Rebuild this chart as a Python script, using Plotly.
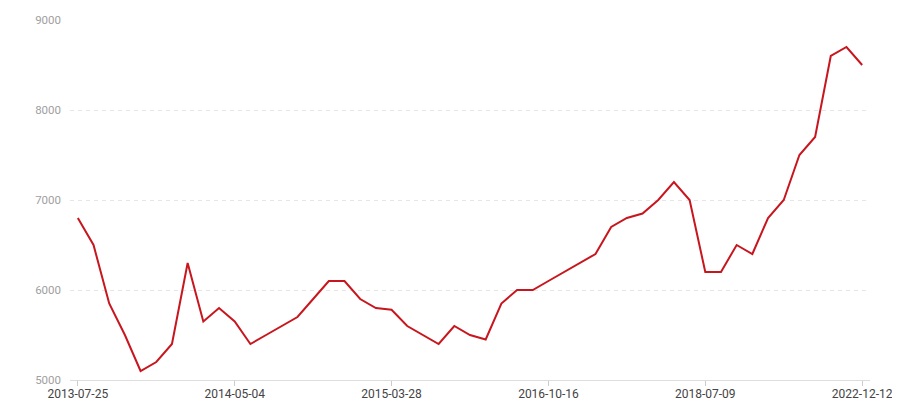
import plotly.graph_objects as go

dates = [
    "2013-07-25", "2013-08-22", "2013-09-18", "2013-10-17", "2013-11-14",
    "2013-12-12", "2014-01-09", "2014-02-13", "2014-03-06", "2014-04-03",
    "2014-05-04", "2014-06-05", "2014-07-10", "2014-08-14", "2014-09-18",
    "2014-10-23", "2014-11-27", "2014-12-25", "2015-01-29", "2015-02-26",
    "2015-03-28", "2015-05-21", "2015-07-16", "2015-09-10", "2015-11-05",
    "2015-12-31", "2016-02-25", "2016-04-21", "2016-06-16", "2016-08-18",
    "2016-10-16", "2016-12-18", "2017-02-19", "2017-04-23", "2017-06-25",
    "2017-08-27", "2017-10-29", "2017-12-31", "2018-03-04", "2018-05-06",
    "2018-07-09", "2018-12-16", "2019-05-26", "2019-11-03", "2020-04-12",
    "2020-09-20", "2021-02-28", "2021-08-08", "2022-01-16", "2022-06-26",
    "2022-12-12",
]

values = [
    6800, 6500, 5850, 5500, 5100, 5200, 5400, 6300, 5650, 5800,
    5650, 5400, 5500, 5600, 5700, 5900, 6100, 6100, 5900, 5800,
    5780, 5600, 5500, 5400, 5600, 5500, 5450, 5850, 6000, 6000,
    6100, 6200, 6300, 6400, 6700, 6800, 6850, 7000, 7200, 7000,
    6200, 6200, 6500, 6400, 6800, 7000, 7500, 7700, 8600, 8700,
    8500,
]

tick_labels = ["2013-07-25", "2014-05-04", "2015-03-28", "2016-10-16", "2018-07-09", "2022-12-12"]
y_ticks = [5000, 6000, 7000, 8000, 9000]

fig = go.Figure()
fig.add_trace(go.Scatter(
    x=dates, y=values, mode="lines",
    line=dict(color="#c8161e", width=2),
    hoverinfo="x+y",
))

# page body has an 8px margin, so the figure is sized/offset to compensate
fig.update_layout(
    width=892, height=392,
    margin=dict(l=62, r=30, t=12, b=20),
    paper_bgcolor="white", plot_bgcolor="white",
    showlegend=False,
    font=dict(family="Roboto, 'Noto Sans', sans-serif", size=12),
    xaxis=dict(
        type="category", automargin=False,
        range=[-0.5, len(dates) - 0.5],
        tickmode="array", tickvals=tick_labels, ticktext=tick_labels,
        ticks="outside", ticklen=5, tickcolor="#cccccc", tickwidth=1,
        ticklabelstandoff=-2,
        showline=True, linecolor="#dddddd", linewidth=1,
        showgrid=False, zeroline=False,
        tickfont=dict(color="#444444", size=12),
    ),
    yaxis=dict(
        automargin=False,
        range=[5000, 9000],
        tickmode="array", tickvals=y_ticks,
        showgrid=True, gridcolor="#e6e6e6", griddash="4px,4px", gridwidth=1,
        zeroline=False, showline=False, ticks="",
        ticklabelstandoff=8,
        tickfont=dict(color="#a0a0a0", size=11.5),
    ),
)

fig.write_html("out.html")
